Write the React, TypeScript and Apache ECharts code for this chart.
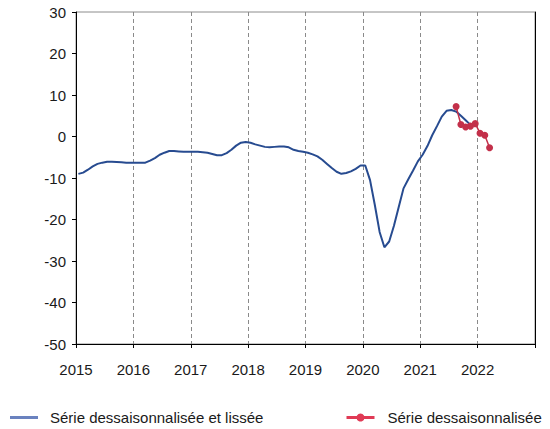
import React, { useEffect, useRef } from "react";
import * as echarts from "echarts";

const smoothedStartYear = 2015;
// Monthly values, Jan 2015 .. Nov 2021 (Série dessaisonnalisée et lissée)
const smoothed: number[] = [
  // 2015
  -9.0, -8.7, -8.0, -7.2, -6.6, -6.3, -6.1, -6.1, -6.15, -6.2, -6.3, -6.3,
  // 2016
  -6.3, -6.3, -6.3, -5.8, -5.2, -4.4, -3.9, -3.5, -3.5, -3.6, -3.7, -3.7,
  // 2017
  -3.7, -3.7, -3.8, -3.9, -4.2, -4.5, -4.5, -4.0, -3.2, -2.2, -1.5, -1.3,
  // 2018
  -1.5, -1.9, -2.2, -2.5, -2.6, -2.5, -2.4, -2.4, -2.6, -3.2, -3.5, -3.7,
  // 2019
  -3.9, -4.3, -4.8, -5.6, -6.6, -7.6, -8.5, -9.0, -8.8, -8.4, -7.8, -7.0,
  // 2020
  -7.0, -10.5, -16.5, -23.0, -26.7, -25.3, -21.5, -17.0, -12.5, -10.3, -8.2, -6.0,
  // 2021
  -4.4, -2.3, 0.3, 2.5, 4.8, 6.2, 6.4, 6.0, 5.0, 3.9, 2.8,
];

// Monthly values, Aug 2021 .. Mar 2022 (Série dessaisonnalisée)
const rawStart = { year: 2021, month: 8 };
const raw: number[] = [7.2, 2.9, 2.3, 2.5, 3.1, 0.8, 0.3, -2.7];

const yearTicks = [2015, 2016, 2017, 2018, 2019, 2020, 2021, 2022];
const seriesNames = ["Série dessaisonnalisée et lissée", "Série dessaisonnalisée"];

const FONT = "'Liberation Sans', Arial, sans-serif";

function toPairs(values: number[], startYear: number, startMonth: number) {
  return values.map((v, i) => {
    const mIndex = startMonth - 1 + i;
    const y = startYear + Math.floor(mIndex / 12);
    const m = mIndex % 12;
    return [y + (m + 0.5) / 12, v];
  });
}

export default function App() {
  const ref = useRef<HTMLDivElement>(null);
  useEffect(() => {
    document.body.style.margin = "0";
    const chart = echarts.init(ref.current!, null, { renderer: "svg" });
    const blue = "#274b90";
    const red = "#c3304a";
    chart.setOption({
      animation: false,
      backgroundColor: "#ffffff",
      textStyle: { fontFamily: FONT },
      grid: {
        left: 76,
        top: 12,
        right: 15,
        bottom: 85,
        show: true,
        borderColor: "#8c8c8c",
        borderWidth: 1,
      },
      legend: [
        {
          data: [
            {
              name: seriesNames[0],
              icon: "path://M0,0H28V3H0Z",
              itemStyle: { color: "#6a82bf" },
            },
          ],
          left: 10,
          top: 410,
          padding: 0,
          itemWidth: 28,
          itemHeight: 10,
          textStyle: { fontSize: 15, color: "#1a1a1a", fontFamily: FONT, padding: [0, 0, 0, 7] },
        },
        {
          data: [
            {
              name: seriesNames[1],
              lineStyle: { color: "#e03a55", width: 3 },
              itemStyle: { color: "#e03a55" },
            },
          ],
          left: 345,
          top: 410,
          padding: 0,
          itemWidth: 28,
          itemHeight: 10,
          textStyle: { fontSize: 15, color: "#1a1a1a", fontFamily: FONT, padding: [0, 0, 0, 8] },
        },
      ],
      xAxis: {
        type: "value",
        min: 2015,
        max: 2023,
        interval: 1,
        axisLine: { show: true, onZero: false, lineStyle: { color: "#000", width: 1 } },
        axisTick: { show: true, length: 4, lineStyle: { color: "#000" } },
        axisLabel: {
          margin: 18,
          fontSize: 15,
          color: "#1a1a1a",
          fontFamily: FONT,
          formatter: (v: number) => (yearTicks.includes(v) ? String(v) : ""),
        },
        splitLine: {
          show: true,
          lineStyle: { color: "#8a8a8a", type: [4, 3], width: 1 },
        },
      },
      yAxis: [
        {
          type: "value",
          min: -50,
          max: 30,
          interval: 10,
          axisLine: { show: true, onZero: false, lineStyle: { color: "#000", width: 1 } },
          axisTick: { show: true, length: 4, lineStyle: { color: "#000" } },
          axisLabel: { margin: 10, fontSize: 15, color: "#1a1a1a", fontFamily: FONT },
          splitLine: { show: false },
        },
        {
          type: "value",
          min: -50,
          max: 30,
          interval: 10,
          position: "right",
          axisLine: { show: true, onZero: false, lineStyle: { color: "#000", width: 1 } },
          axisTick: { show: false },
          axisLabel: { show: false },
          splitLine: { show: false },
        },
      ],
      series: [
        {
          name: seriesNames[0],
          type: "line",
          data: toPairs(smoothed, smoothedStartYear, 1),
          symbol: "none",
          lineStyle: { color: blue, width: 2 },
          itemStyle: { color: blue },
          z: 2,
        },
        {
          name: seriesNames[1],
          type: "line",
          data: toPairs(raw, rawStart.year, rawStart.month),
          symbol: "circle",
          symbolSize: 7,
          showSymbol: true,
          lineStyle: { color: red, width: 1.5 },
          itemStyle: { color: red },
          z: 3,
        },
      ],
    });
    return () => chart.dispose();
  }, []);
  return (
    <div
      ref={ref}
      style={{ position: "absolute", left: 0, top: 0, width: 550, height: 429 }}
    />
  );
}
